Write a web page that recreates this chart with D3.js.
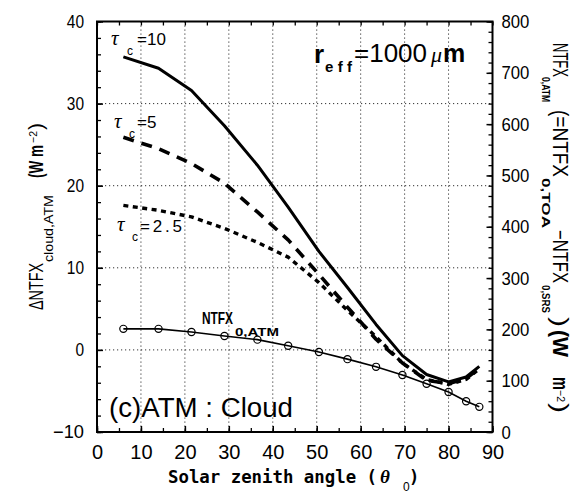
<!DOCTYPE html>
<html>
<head>
<meta charset="utf-8">
<script src="https://cdn.jsdelivr.net/npm/d3@7.9.0/dist/d3.min.js"></script>
<style>
  body { margin: 0; background: #fff; }
  svg { display: block; font-family: 'Liberation Sans', Arial, sans-serif; }
</style>
</head>
<body>
<svg id="chart" width="577" height="493"></svg>
<script>
// solar zenith angle nodes (deg)
const theta = [6, 14, 21.5, 29, 36.5, 43.5, 50.5, 57, 63.5, 69.5, 75, 80, 84, 87];
// NTFX_0,ATM (right axis, W m-2)
const ntfx0Atm = [201, 201, 195, 187, 180, 168, 156, 142, 127, 111, 94, 78, 60, 49];
// delta NTFX cloud,ATM (left axis, W m-2)
const dTau10 = [35.7, 34.3, 31.6, 27.3, 22.5, 17.4, 12.0, 7.6, 3.1, -0.7, -3.0, -3.9, -3.3, -2.0];
const dTau5 = [25.9, 24.5, 22.7, 20.3, 16.8, 13.4, 9.2, 5.2, 1.3, -1.6, -3.7, -4.1, -3.5, -2.2];
const dTau25 = [17.6, 17.0, 16.2, 14.8, 13.1, 11.3, 8.2, 4.8, 1.6, -1.6, -3.6, -4.2, -3.6, -2.3];

const xTicks = [0, 10, 20, 30, 40, 50, 60, 70, 80, 90];
const leftTicks = [-10, 0, 10, 20, 30, 40];
const rightTicks = [0, 100, 200, 300, 400, 500, 600, 700, 800];
const xGrid = [10, 20, 30, 40, 50, 60, 70, 80];
const yGrid = [0, 10, 20, 30];

const width = 577, height = 493;
const margin = { top: 21.5, right: 84.5, bottom: 61, left: 97 };

const svg = d3.select('#chart');

const x = d3.scaleLinear().domain([0, 90]).range([margin.left, width - margin.right]);
const yL = d3.scaleLinear().domain([-10, 40]).range([height - margin.bottom, margin.top]);
const yR = d3.scaleLinear().domain([0, 800]).range([height - margin.bottom, margin.top]);

const x0 = x.range()[0], x1 = x.range()[1];
const yb = yL.range()[0], yt = yL.range()[1];

// ----- dotted grid -----
const grid = svg.append('g')
  .attr('stroke', '#333')
  .attr('stroke-width', 1)
  .attr('stroke-dasharray', '1.2,2.8');
grid.selectAll('.gx').data(xGrid).join('line')
  .attr('x1', d => x(d)).attr('x2', d => x(d))
  .attr('y1', yt).attr('y2', yb);
grid.selectAll('.gy').data(yGrid).join('line')
  .attr('x1', x0).attr('x2', x1)
  .attr('y1', d => yL(d)).attr('y2', d => yL(d));

// ----- minor ticks (inward) -----
function minor(axis, transform) {
  const g = svg.append('g').attr('transform', transform).call(axis);
  g.select('.domain').remove();
  g.selectAll('line').attr('stroke', '#000').attr('stroke-width', 1.3);
  return g;
}
minor(d3.axisBottom(x).tickValues(d3.range(0, 91, 5)).tickSizeInner(-4).tickSizeOuter(0).tickFormat(''),
  `translate(0,${yb})`);
minor(d3.axisTop(x).tickValues(d3.range(0, 91, 5)).tickSizeInner(-4).tickSizeOuter(0).tickFormat(''),
  `translate(0,${yt})`);
minor(d3.axisLeft(yL).tickValues(d3.range(-10, 41, 2)).tickSizeInner(-4).tickSizeOuter(0).tickFormat(''),
  `translate(${x0},0)`);
minor(d3.axisRight(yR).tickValues(d3.range(0, 801, 20)).tickSizeInner(-4).tickSizeOuter(0).tickFormat(''),
  `translate(${x1},0)`);

// ----- major axes with labels -----
const gx = svg.append('g').attr('transform', `translate(0,${yb})`)
  .call(d3.axisBottom(x).tickValues(xTicks).tickSizeInner(-6).tickSizeOuter(0).tickPadding(13));
const gl = svg.append('g').attr('transform', `translate(${x0},0)`)
  .call(d3.axisLeft(yL).tickValues(leftTicks).tickSizeInner(-6).tickSizeOuter(0).tickPadding(13));
const gr = svg.append('g').attr('transform', `translate(${x1},0)`)
  .call(d3.axisRight(yR).tickValues(rightTicks).tickSizeInner(-6).tickSizeOuter(0).tickPadding(9));

[gx, gl, gr].forEach(g => {
  g.select('.domain').remove();
  g.selectAll('line').attr('stroke', '#000').attr('stroke-width', 1.5);
  g.selectAll('text').attr('fill', '#000').attr('font-family', "'Liberation Sans', Arial, sans-serif");
});
gx.selectAll('text').attr('font-size', 20);
gl.selectAll('text').attr('font-size', 18)
  .attr('textLength', d => d < 0 ? 31 : String(d).length * 8.6)
  .attr('lengthAdjust', 'spacingAndGlyphs');
gr.selectAll('text').attr('font-size', 19)
  .attr('textLength', d => String(d).length * 9.3)
  .attr('lengthAdjust', 'spacingAndGlyphs');

// ----- frame -----
svg.append('rect')
  .attr('x', x0).attr('y', yt)
  .attr('width', x1 - x0).attr('height', yb - yt)
  .attr('fill', 'none').attr('stroke', '#000').attr('stroke-width', 2);

// ----- curves -----
const lineL = d3.line().x((d, i) => x(theta[i])).y(d => yL(d));
const lineR = d3.line().x((d, i) => x(theta[i])).y(d => yR(d));

const curves = [
  { values: dTau25, width: 3.4, dash: '5,4.5' },
  { values: dTau5, width: 3.6, dash: '11,8' },
  { values: dTau10, width: 3, dash: null },
];
svg.append('g').selectAll('path').data(curves).join('path')
  .attr('d', d => lineL(d.values))
  .attr('fill', 'none')
  .attr('stroke', '#000')
  .attr('stroke-width', d => d.width)
  .attr('stroke-dasharray', d => d.dash)
  .attr('stroke-linejoin', 'round');

svg.append('path')
  .attr('d', lineR(ntfx0Atm))
  .attr('fill', 'none').attr('stroke', '#000').attr('stroke-width', 1.6);
svg.append('g').selectAll('circle').data(ntfx0Atm).join('circle')
  .attr('cx', (d, i) => x(theta[i]))
  .attr('cy', d => yR(d))
  .attr('r', 3.6)
  .attr('fill', 'none').attr('stroke', '#000').attr('stroke-width', 1.2);

// ----- text helper -----
function label(px, py, str, o = {}) {
  const t = svg.append('text')
    .attr('transform', `translate(${px},${py})` + (o.rotate ? ` rotate(${o.rotate})` : ''))
    .attr('font-size', o.size || 16)
    .attr('fill', '#000')
    .text(str);
  if (o.weight) t.attr('font-weight', o.weight);
  if (o.style) t.attr('font-style', o.style);
  if (o.family) t.attr('font-family', o.family);
  if (o.len) t.attr('textLength', o.len).attr('lengthAdjust', o.adjust || 'spacingAndGlyphs');
  return t;
}
const serif = "'Liberation Serif', 'DejaVu Serif', serif";
const mono = "'DejaVu Sans Mono', 'Liberation Mono', monospace";

// tau_c labels
label(111, 45, 'τ', { size: 21, style: 'italic', family: serif });
label(127, 55, 'c', { size: 12 });
label(137, 45, '=10', { size: 17 });
label(114, 128, 'τ', { size: 21, style: 'italic', family: serif });
label(129, 138, 'c', { size: 12 });
label(137, 128, '=5', { size: 17 });
label(117, 231, 'τ', { size: 21, style: 'italic', family: serif });
label(132, 241, 'c', { size: 12 });
label(140, 232, '=2.5', { size: 17, len: 42, adjust: 'spacing' });

// r_eff
label(314, 63, 'r', { size: 26, weight: 'bold' });
label(325, 72, 'eff', { size: 15, weight: 'bold', len: 27, adjust: 'spacing' });
label(354, 62, '=1000', { size: 25, len: 73 });
label(431, 62, 'μ', { size: 22, style: 'italic', family: serif });
label(443, 62, 'm', { size: 25, weight: 'bold' });

// NTFX_0,ATM curve label
label(202, 324, 'NTFX', { size: 17, weight: 'bold', len: 31 });
label(235, 336, '0,ATM', { size: 11, weight: 'bold', len: 44 });

// panel label
label(109, 417, '(c)ATM : Cloud', { size: 27, len: 184 });

// x axis title
label(168, 483, 'Solar zenith angle (', { size: 17, weight: 'bold', family: mono, len: 209 });
label(380, 483, 'θ', { size: 19, style: 'italic', weight: 'bold', family: serif });
label(403, 491, '0', { size: 12 });
label(409, 483, ')', { size: 17, weight: 'bold', family: mono });

// left axis title (rotated -90)
label(43, 310, 'ΔNTFX', { size: 21, rotate: -90, len: 47 });
label(53, 262, 'cloud,ATM', { size: 12.5, rotate: -90, len: 67 });
label(43, 178, '(W m', { size: 20, rotate: -90, weight: 'bold', len: 33 });
label(37, 143, '−2', { size: 11, rotate: -90, len: 12 });
label(43, 130, ')', { size: 20, rotate: -90, len: 7 });

// right axis title (rotated 90)
label(553, 43, 'NTFX', { size: 22, rotate: 90, len: 34 });
label(542, 77, '0,ATM', { size: 11, rotate: 90, weight: 'bold', len: 25 });
label(553, 110, '(=NTFX', { size: 22, rotate: 90, len: 67 });
label(542, 178, '0,TOA', { size: 11, rotate: 90, weight: 'bold', len: 50 });
label(553, 230, '−NTFX', { size: 22, rotate: 90, len: 53 });
label(542, 285, '0,SRS', { size: 11, rotate: 90, weight: 'bold', len: 28 });
label(553, 317, ')', { size: 22, rotate: 90, len: 10 });
label(553, 330, '(W', { size: 22, rotate: 90, weight: 'bold', len: 27 });
label(553, 377, 'm', { size: 22, rotate: 90, weight: 'bold', len: 13 });
label(557, 390, '−2', { size: 11, rotate: 90, len: 12 });
label(553, 403, ')', { size: 22, rotate: 90, len: 10 });
</script>
</body>
</html>
